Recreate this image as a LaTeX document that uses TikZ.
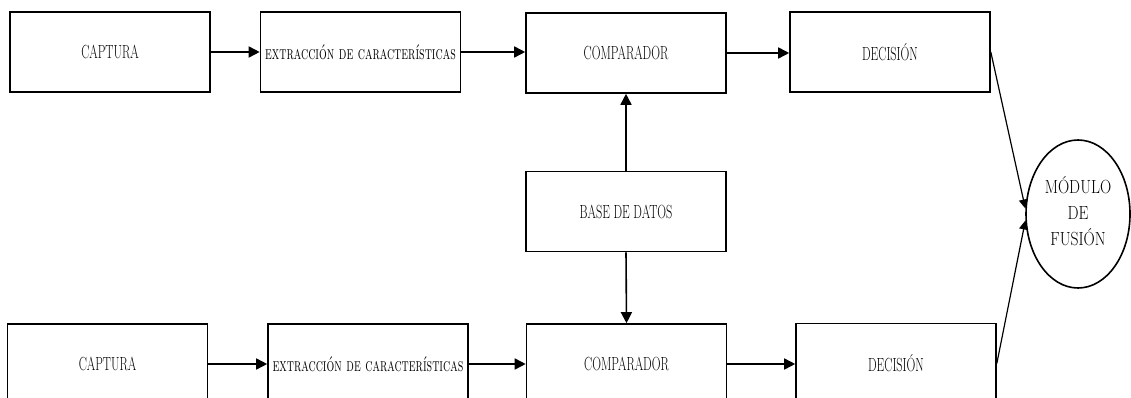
\documentclass[tikz,border=0pt]{standalone}
\usepackage{fontspec}
\usepackage{graphicx}
\usetikzlibrary{shapes.geometric,arrows.meta}
% horizontally condensed label text
\newcommand{\sqz}[2][0.64]{\scalebox{#1}[1]{#2}}
\tikzset{
  block/.style={draw, line width=1.6pt, minimum width=200pt, minimum height=80pt,
    inner sep=0pt, font=\fontsize{19}{22}\selectfont},
  fusion/.style={draw, ellipse, line width=1.6pt, minimum width=104pt, minimum height=148pt,
    inner sep=0pt, font=\fontsize{19}{26}\selectfont},
  flow/.style={line width=1.6pt, -{Triangle[length=11pt,width=11pt]}},
  merge/.style={line width=1.2pt, -{Triangle[length=9pt,width=9pt]}},
}
\begin{document}
\begin{tikzpicture}[x=1pt,y=-1pt]
\useasboundingbox (0,0) rectangle (1131,398);
\clip (0,0) rectangle (1131,398);

% upper chain
\node[block] (capA) at (110,52)   {\sqz{CAPTURA}};
\node[block] (extA) at (360.5,52) {\sqz{\textsc{extracción de características}}};
\node[block] (cmpA) at (626,53)   {\sqz{COMPARADOR}};
\node[block] (decA) at (890,52)   {\sqz{DECISIÓN}};

% shared database
\node[block] (db) at (626,211.5) {\sqz{BASE DE DATOS}};

% lower chain
\node[block] (capB) at (107.5,364) {\sqz{CAPTURA}};
\node[block] (extB) at (368,364)   {\sqz{\textsc{extracción de características}}};
\node[block] (cmpB) at (626.5,364) {\sqz{COMPARADOR}};
\node[block] (decB) at (896,363.5) {\sqz{DECISIÓN}};

% fusion module, its three lines set a little below the centre
\node[fusion] (fus) at (1078,214)
  {\raisebox{-5pt}{\begin{tabular}{@{}c@{}}\sqz[0.82]{MÓDULO}\\\sqz[0.82]{DE}\\\sqz[0.82]{FUSIÓN}\end{tabular}}};

% connectors
\draw[flow] (capA.east) -- (capA.east -| extA.west);
\draw[flow] (extA.east) -- (extA.east -| cmpA.west);
\draw[flow] (cmpA.east) -- (cmpA.east -| decA.west);
\draw[flow] (capB.east) -- (capB.east -| extB.west);
\draw[flow] (extB.east) -- (extB.east -| cmpB.west);
\draw[flow] (cmpB.east) -- (cmpB.east -| decB.west);
\draw[flow] (db.north) -- (cmpA.south);
\draw[flow] (db.south) -- (cmpB.north);
\draw[merge] (decA.east) -- (fus.174);
\draw[merge] (decB.east) -- (fus.187);
\end{tikzpicture}
\end{document}
